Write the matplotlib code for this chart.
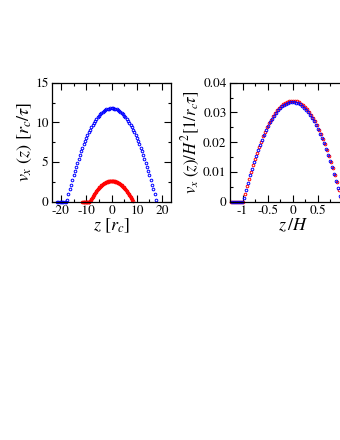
import matplotlib
matplotlib.use("Agg")
import matplotlib.pyplot as plt
from matplotlib.ticker import MultipleLocator, FuncFormatter

plt.rcParams['font.family'] = ['STIXGeneral', 'DejaVu Serif']
plt.rcParams['mathtext.fontset'] = 'stix'
plt.rcParams['axes.unicode_minus'] = False

# left panel: v_x(z) in units of r_c/tau
blue_z = [-21.5, -21.0, -20.5, -20.0, -19.5, -19.0, -18.5, -18.0,
          -17.5, -17.0, -16.5, -16.0, -15.5, -15.0, -14.5, -14.0, -13.5, -13.0,
          -12.5, -12.0, -11.5, -11.0, -10.5, -10.0, -9.5, -9.0, -8.5, -8.0,
          -7.5, -7.0, -6.5, -6.0, -5.5, -5.0, -4.5, -4.0, -3.5, -3.0,
          -2.5, -2.0, -1.5, -1.0, -0.5, 0.0, 0.5, 1.0, 1.5, 2.0,
          2.5, 3.0, 3.5, 4.0, 4.5, 5.0, 5.5, 6.0, 6.5, 7.0,
          7.5, 8.0, 8.5, 9.0, 9.5, 10.0, 10.5, 11.0, 11.5, 12.0,
          12.5, 13.0, 13.5, 14.0, 14.5, 15.0, 15.5, 16.0, 16.5, 17.0, 17.5]
blue_v = [0, 0, 0, 0, 0, 0, 0, 0,
          0.26, 0.91, 1.54, 2.15, 2.74, 3.32, 3.87, 4.41, 4.92, 5.42,
          5.90, 6.36, 6.80, 7.22, 7.63, 8.01, 8.38, 8.73, 9.06, 9.37,
          9.66, 9.93, 10.18, 10.42, 10.63, 10.83, 11.01, 11.17, 11.31, 11.43,
          11.54, 11.62, 11.69, 11.73, 11.76, 11.77, 11.76, 11.73, 11.69, 11.62,
          11.54, 11.43, 11.31, 11.17, 11.01, 10.83, 10.63, 10.42, 10.18, 9.93,
          9.66, 9.37, 9.06, 8.73, 8.38, 8.01, 7.63, 7.22, 6.80, 6.36,
          5.90, 5.42, 4.92, 4.41, 3.87, 3.32, 2.74, 2.15, 1.54, 0.91, 0.26]

red_z = [-11.5, -11.25, -11.0, -10.75, -10.5, -10.25, -10.0, -9.75, -9.5, -9.25,
         -9.0, -8.75, -8.5, -8.25, -8.0, -7.75, -7.5, -7.25, -7.0, -6.75,
         -6.5, -6.25, -6.0, -5.75, -5.5, -5.25, -5.0, -4.75, -4.5, -4.25,
         -4.0, -3.75, -3.5, -3.25, -3.0, -2.75, -2.5, -2.25, -2.0, -1.75,
         -1.5, -1.25, -1.0, -0.75, -0.5, -0.25, 0.0, 0.25, 0.5, 0.75,
         1.0, 1.25, 1.5, 1.75, 2.0, 2.25, 2.5, 2.75, 3.0, 3.25,
         3.5, 3.75, 4.0, 4.25, 4.5, 4.75, 5.0, 5.25, 5.5, 5.75,
         6.0, 6.25, 6.5, 6.75, 7.0, 7.25, 7.5, 7.75, 8.0, 8.25, 8.5]
red_v = [0, 0, 0, 0, 0, 0, 0, 0, 0, 0,
         0, 0, 0.03, 0.18, 0.33, 0.47, 0.60, 0.74, 0.86, 0.99,
         1.11, 1.22, 1.33, 1.44, 1.54, 1.63, 1.72, 1.81, 1.89, 1.97,
         2.05, 2.12, 2.18, 2.24, 2.30, 2.35, 2.40, 2.44, 2.48, 2.51,
         2.54, 2.56, 2.58, 2.60, 2.61, 2.62, 2.62, 2.62, 2.61, 2.60,
         2.58, 2.56, 2.54, 2.51, 2.48, 2.44, 2.40, 2.35, 2.30, 2.24,
         2.18, 2.12, 2.05, 1.97, 1.89, 1.81, 1.72, 1.63, 1.54, 1.44,
         1.33, 1.22, 1.11, 0.99, 0.86, 0.74, 0.60, 0.47, 0.33, 0.18, 0.03]

# right panel: scaled profiles v_x(z)/H^2 vs z/H
blue_zh = [-1.22, -1.18, -1.14, -1.10, -1.06, -1.02,
           -0.98, -0.94, -0.90, -0.86, -0.82, -0.78, -0.74, -0.70, -0.66, -0.62,
           -0.58, -0.54, -0.50, -0.46, -0.42, -0.38, -0.34, -0.30, -0.26, -0.22,
           -0.18, -0.14, -0.10, -0.06, -0.02, 0.02, 0.06, 0.10, 0.14, 0.18,
           0.22, 0.26, 0.30, 0.34, 0.38, 0.42, 0.46, 0.50, 0.54, 0.58,
           0.62, 0.66, 0.70, 0.74, 0.78, 0.82, 0.86, 0.90, 0.94]
blue_vh = [0, 0, 0, 0, 0, 0,
           0.00135, 0.00395, 0.00645, 0.00884, 0.01112, 0.01329, 0.01535, 0.01730, 0.01913, 0.02086,
           0.02248, 0.02398, 0.02538, 0.02666, 0.02784, 0.02890, 0.02985, 0.03070, 0.03143, 0.03205,
           0.03256, 0.03296, 0.03325, 0.03343, 0.03350, 0.03346, 0.03331, 0.03304, 0.03267, 0.03219,
           0.03159, 0.03089, 0.03007, 0.02915, 0.02811, 0.02697, 0.02571, 0.02434, 0.02286, 0.02128,
           0.01958, 0.01777, 0.01585, 0.01382, 0.01168, 0.00943, 0.00706, 0.00459, 0.00201]

red_zh = [-1.24, -1.20, -1.16, -1.12, -1.08, -1.04, -1.00,
          -0.96, -0.92, -0.88, -0.84, -0.80, -0.76, -0.72, -0.68, -0.64, -0.60,
          -0.56, -0.52, -0.48, -0.44, -0.40, -0.36, -0.32, -0.28, -0.24, -0.20,
          -0.16, -0.12, -0.08, -0.04, 0.00, 0.04, 0.08, 0.12, 0.16, 0.20,
          0.24, 0.28, 0.32, 0.36, 0.40, 0.44, 0.48, 0.52, 0.56, 0.60,
          0.64, 0.68, 0.72, 0.76, 0.80, 0.84, 0.88, 0.92, 0.96]
red_vh = [0, 0, 0, 0, 0, 0, 0,
          0.00269, 0.00527, 0.00774, 0.01010, 0.01235, 0.01449, 0.01651, 0.01843, 0.02023, 0.02192,
          0.02351, 0.02498, 0.02634, 0.02759, 0.02872, 0.02975, 0.03067, 0.03147, 0.03216, 0.03275,
          0.03322, 0.03358, 0.03383, 0.03397, 0.03400, 0.03391, 0.03372, 0.03341, 0.03300, 0.03247,
          0.03183, 0.03108, 0.03022, 0.02925, 0.02817, 0.02698, 0.02567, 0.02426, 0.02273, 0.02109,
          0.01934, 0.01748, 0.01551, 0.01343, 0.01124, 0.00894, 0.00652, 0.00400, 0.00136]

fig = plt.figure(figsize=(3.4, 4.4), dpi=100)
ax1 = fig.add_axes([0.153, 0.5416, 0.350, 0.2705])
ax2 = fig.add_axes([0.6765, 0.5416, 0.368, 0.2705])

mk = dict(ls='none', marker='o', ms=1.9, mfc='none', mew=0.7, clip_on=False)

ax1.plot(blue_z, blue_v, color='#0000ff', **mk)
ax1.plot(red_z, red_v, color='#ff0000', **mk)
ax1.set_xlim(-23.5, 23.5)
ax1.set_ylim(0, 15)
ax1.xaxis.set_major_locator(MultipleLocator(10))
ax1.xaxis.set_minor_locator(MultipleLocator(5))
ax1.yaxis.set_major_locator(MultipleLocator(5))
ax1.yaxis.set_minor_locator(MultipleLocator(2.5))
ax1.set_xlabel(r'$z\ [r_c]$', fontsize=13, labelpad=0)
ax1.set_ylabel(r'$v_x\ (z)\ [r_c/\tau]$', fontsize=13, labelpad=1)

ax2.plot(red_zh, red_vh, color='#ff0000', **mk)
ax2.plot(blue_zh, blue_vh, color='#0000ff', **mk)
ax2.set_xlim(-1.25, 1.25)
ax2.set_ylim(0, 0.04)
ax2.xaxis.set_major_locator(MultipleLocator(0.5))
ax2.xaxis.set_minor_locator(MultipleLocator(0.25))
ax2.yaxis.set_major_locator(MultipleLocator(0.01))
ax2.yaxis.set_minor_locator(MultipleLocator(0.005))
ax2.set_xlabel(r'$z\,/H$', fontsize=13, labelpad=0)
ax2.set_ylabel(r'$v_x\ (z)/H^2[1/r_c\tau]$', fontsize=12, labelpad=1)

fmt = FuncFormatter(lambda v, p: '%g' % round(v, 6))
# the tick at z/H = 1 sits past the figure edge, so leave it unlabelled
fmt2 = FuncFormatter(lambda v, p: '' if v > 0.9 else '%g' % round(v, 6))
ax1.xaxis.set_major_formatter(fmt)
ax1.yaxis.set_major_formatter(fmt)
ax2.xaxis.set_major_formatter(fmt2)
ax2.yaxis.set_major_formatter(fmt)
for ax in (ax1, ax2):
    ax.tick_params(which='both', direction='in', top=True, right=True,
                   labelsize=9.5, width=0.8)
    ax.tick_params(which='major', length=5, pad=2.5)
    ax.tick_params(which='minor', length=2.5)
    for s in ax.spines.values():
        s.set_linewidth(0.9)

fig.savefig('out.png', dpi=100)
